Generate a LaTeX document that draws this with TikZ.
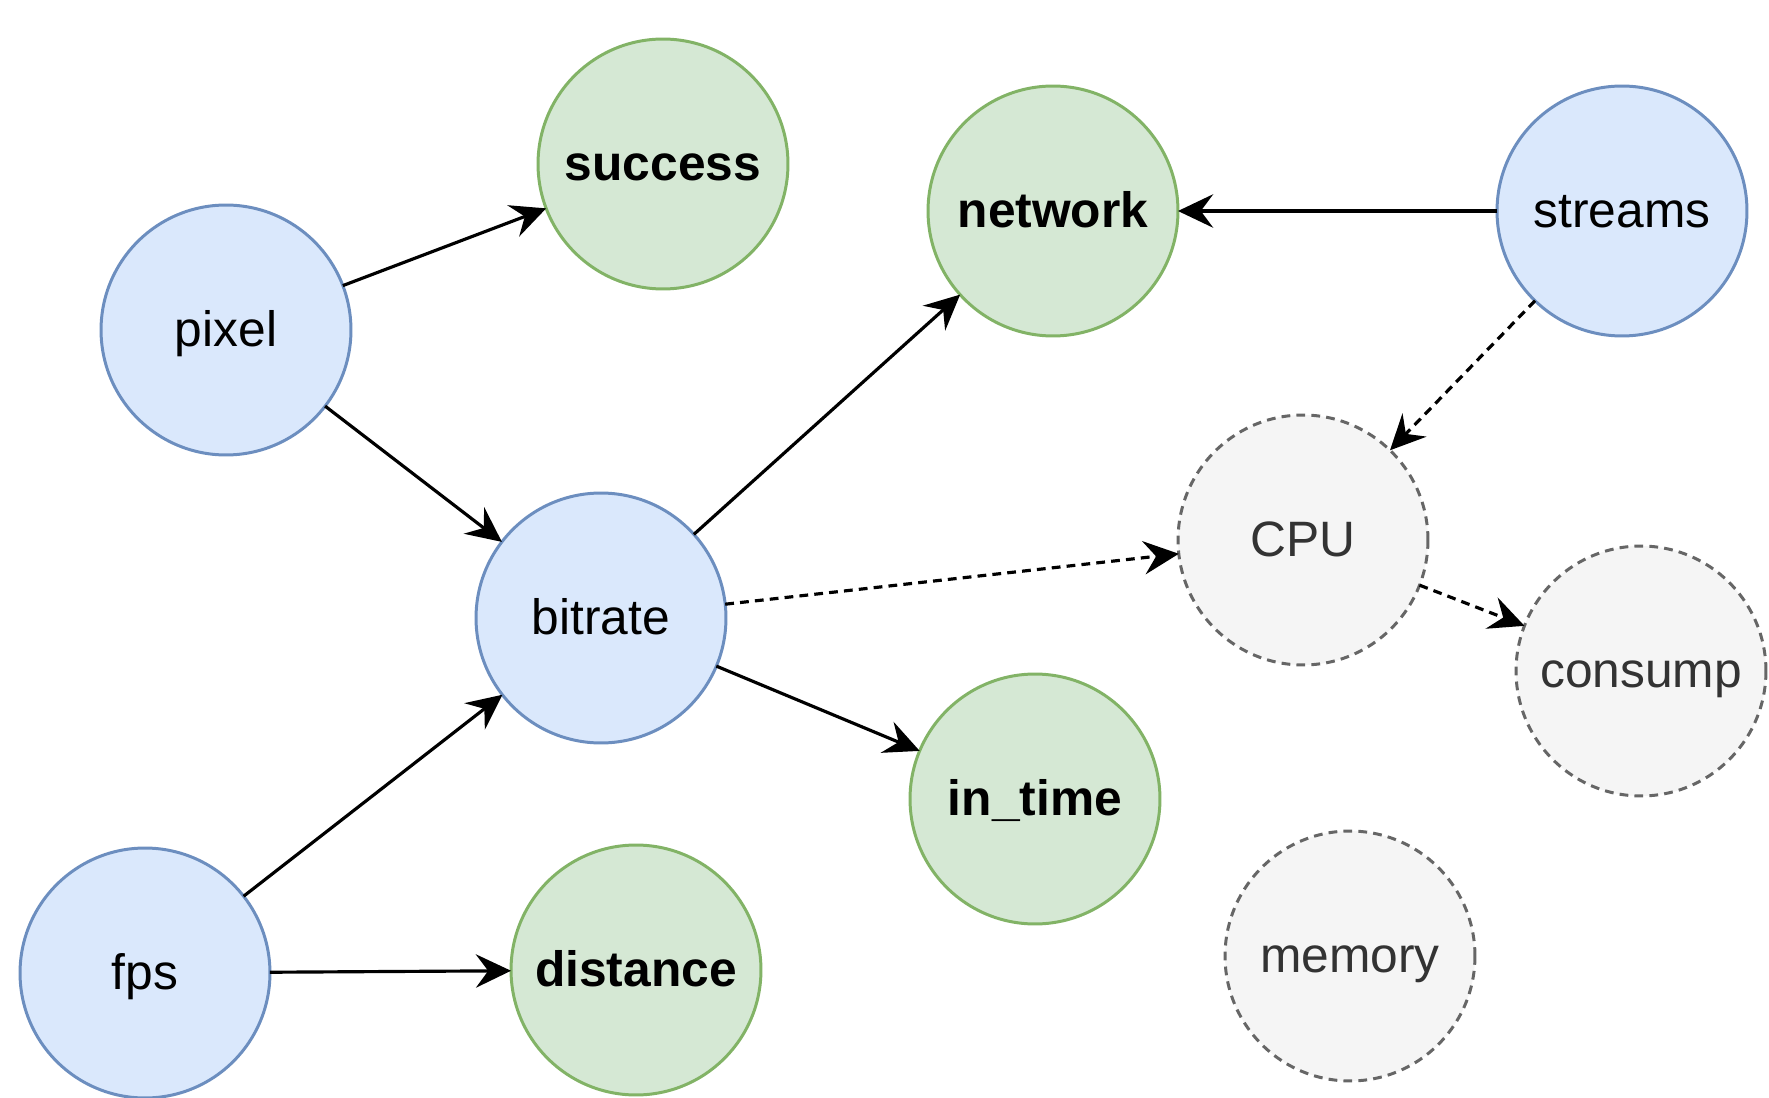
\documentclass[tikz,border=0pt]{standalone}
\usepackage{fontspec}
\setmainfont{Liberation Sans}
\usetikzlibrary{arrows.meta}
\definecolor{bluefill}{HTML}{DAE8FC}
\definecolor{bluedraw}{HTML}{6C8EBF}
\definecolor{greenfill}{HTML}{D5E8D4}
\definecolor{greendraw}{HTML}{82B366}
\definecolor{grayfill}{HTML}{F5F5F5}
\definecolor{graydraw}{HTML}{666666}
\definecolor{graytext}{HTML}{333333}
\tikzset{
  vnode/.style={circle, minimum size=5cm, inner sep=0pt, outer sep=0pt, line width=1.7pt,
    font=\fontsize{28.3}{34}\selectfont, text height=18.5pt, text depth=0pt},
  inputnode/.style={vnode, draw=bluedraw, fill=bluefill},
  targetnode/.style={vnode, draw=greendraw, fill=greenfill, font=\fontsize{28.3}{34}\selectfont\bfseries},
  hiddennode/.style={vnode, draw=graydraw, fill=grayfill, text=graytext, dash pattern=on 5pt off 3.5pt},
  edge/.style={line width=1.8pt, -{Stealth[length=20pt, width=19pt, inset=7pt]}},
  dashededge/.style={edge, dash pattern=on 5pt off 3.5pt}
}
\begin{document}
\begin{tikzpicture}[x=0.02cm, y=-0.02cm]
\useasboundingbox (0,0) rectangle (1769,1098);
\node[targetnode] (success) at (663,164) {success};
\node[targetnode] (network) at (1053,211) {network};
\node[inputnode] (streams) at (1622,211) {streams};
\node[inputnode] (pixel) at (226,330) {pixel};
\node[inputnode] (bitrate) at (601,618) {bitrate};
\node[hiddennode] (cpu) at (1303,540) {CPU};
\node[hiddennode] (consump) at (1641,671) {consump};
\node[targetnode] (intime) at (1035,799) {in\_time};
\node[inputnode] (fps) at (145,973) {fps};
\node[targetnode] (distance) at (636,970) {distance};
\node[hiddennode] (memory) at (1350,956) {memory};

\draw[edge] (pixel) -- (success);
\draw[edge] (pixel) -- (bitrate);
\draw[edge] (bitrate) -- (network);
\draw[edge] (bitrate) -- (intime);
\draw[edge] (fps) -- (bitrate);
\draw[edge] (fps) -- (distance);
\draw[edge] (streams) -- (network);
\draw[dashededge] (streams) -- (cpu);
\draw[dashededge] (bitrate) -- (cpu);
\draw[dashededge] (cpu) -- (consump);
\end{tikzpicture}
\end{document}
